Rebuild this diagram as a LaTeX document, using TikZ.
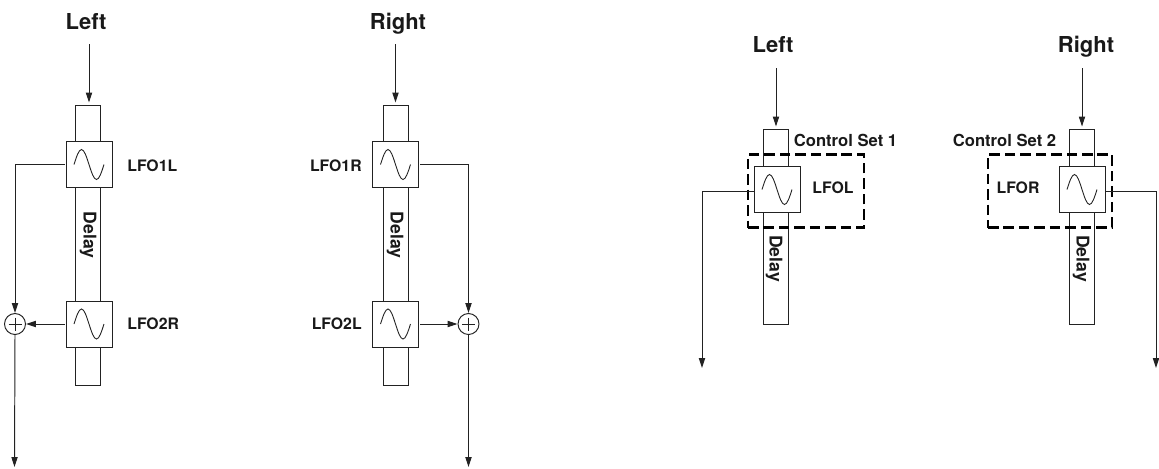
\documentclass[tikz,border=0pt]{standalone}
\usepackage{fontspec}
\setmainfont{TeX Gyre Heros}
\usetikzlibrary{arrows.meta, calc}
\definecolor{wire}{HTML}{222222}
\tikzset{
  arr/.style={-{Triangle[length=0.2cm, width=0.125cm]}, line width=0.55pt, wire},
  delayline/.style={rectangle, draw=wire, fill=white, line width=0.55pt, inner sep=0pt, minimum width=0.5cm},
  lfobox/.style={rectangle, draw=wire, fill=white, line width=0.55pt, inner sep=0pt, minimum size=0.92cm},
  sumnode/.style={circle, draw=wire, fill=white, line width=0.55pt, inner sep=0pt, minimum size=0.42cm},
  ctrlset/.style={rectangle, draw=black, dash pattern=on 6pt off 2.8pt, line width=1.3pt, inner sep=0pt},
  chan/.style={font=\bfseries\fontsize{12.5}{14}\selectfont, text=black!90, inner sep=0pt, anchor=base},
  tag/.style={font=\bfseries\fontsize{9}{11}\selectfont, text=black!90, inner sep=0pt, anchor=base},
  settag/.style={font=\bfseries\fontsize{9.45}{11}\selectfont, text=black!90, inner sep=0pt, anchor=base},
  delaytag/.style={font=\bfseries\fontsize{10}{12}\selectfont, text=black!90, inner sep=0pt, rotate=-90},
}
\begin{document}
\begin{tikzpicture}[x=0.02cm, y=-0.02cm]
  \path[use as bounding box] (0,0) rectangle (1159,468);

  % Delay lines
  \foreach \i/\x/\y/\len in {A/87.75/245.5/5.6,B/395.75/245.5/5.6,C/775.75/226.75/3.89,D/1082.25/226.75/3.89} {
    \node[delayline, minimum height=\len cm] (D\i) at (\x,\y) {};
  }

  % Dashed control sets
  \node[ctrlset, minimum width=2.32cm, minimum height=1.46cm] (setC) at (806,191) {};
  \node[ctrlset, minimum width=2.48cm, minimum height=1.46cm] (setD) at (1050,191) {};

  % LFO boxes
  \foreach \i/\x/\y in {A1/89/164.5,A2/89/324,B1/395.5/164.5,B2/395.5/324,C1/777/189.5,D1/1082/189.5} {
    \node[lfobox] (O\i) at (\x,\y) {};
    \draw[line width=0.5pt, wire] ($(O\i)+(-15,0)$) sin ++(7.5,-15) cos ++(7.5,15) sin ++(7.5,15) cos ++(7.5,-15);
  }

  % Summing points
  \foreach \i/\x/\y in {A/15/324,B/468.5/324} {
    \node[sumnode] (S\i) at (\x,\y) {};
    \draw[line width=0.5pt, wire] ($(S\i)+(-6.5,0)$) -- ($(S\i)+(6.5,0)$);
    \draw[line width=0.5pt, wire] ($(S\i)+(0,-6.5)$) -- ($(S\i)+(0,6.5)$);
  }

  % Labels
  \node[chan] (inA) at (86,29) {Left};
  \node[chan] (inB) at (398,29) {Right};
  \node[chan] (inC) at (773,52) {Left};
  \node[chan] (inD) at (1086,52) {Right};
  \node[tag, anchor=base west] (lA1) at (127,171) {LFO1L};
  \node[tag, anchor=base west] (lA2) at (127,329) {LFO2R};
  \node[tag, anchor=base east] (lB1) at (362,171) {LFO1R};
  \node[tag, anchor=base east] (lB2) at (362,329) {LFO2L};
  \node[tag] (lC) at (833,193) {LFOL};
  \node[tag] (lD) at (1018,193) {LFOR};
  \node[settag] (setlC) at (845.5,146) {Control Set 1};
  \node[settag] (setlD) at (1004.5,146) {Control Set 2};
  \foreach \i/\x/\y in {A/88/235,B/395/235,C/774/258.5,D/1081/258.5} {
    \node[delaytag] (t\i) at (\x,\y) {Delay};
  }

  % Inputs
  \coordinate (tA) at (89,44);
  \coordinate (tB) at (395.5,44);
  \coordinate (tC) at (776,68);
  \coordinate (tD) at (1082,68);
  \foreach \i in {A,B,C,D} {
    \draw[arr, shorten >=0.05cm] (t\i) -- (t\i |- D\i.north);
  }

  % Outputs
  \coordinate (endA) at (14.5,467);
  \coordinate (endB) at (468.5,467);
  \coordinate (endC) at (702,368);
  \coordinate (endD) at (1156,368);
  \draw[arr, shorten <=0.02cm] (OA1.west) -| (SA.north);
  \draw[arr, shorten <=0.02cm] (OA2.west) -- (SA.east);
  \draw[arr] (SA.south) -- (endA);
  \draw[arr, shorten <=0.03cm] (OB1.east) -| (SB.north);
  \draw[arr, shorten <=0.03cm] (OB2.east) -- (SB.west);
  \draw[arr] (SB.south) -- (endB);
  \draw[arr] ([yshift=-0.03cm]OC1.west) -| (endC);
  \draw[arr] ([yshift=-0.03cm]OD1.east) -| (endD);
\end{tikzpicture}
\end{document}
